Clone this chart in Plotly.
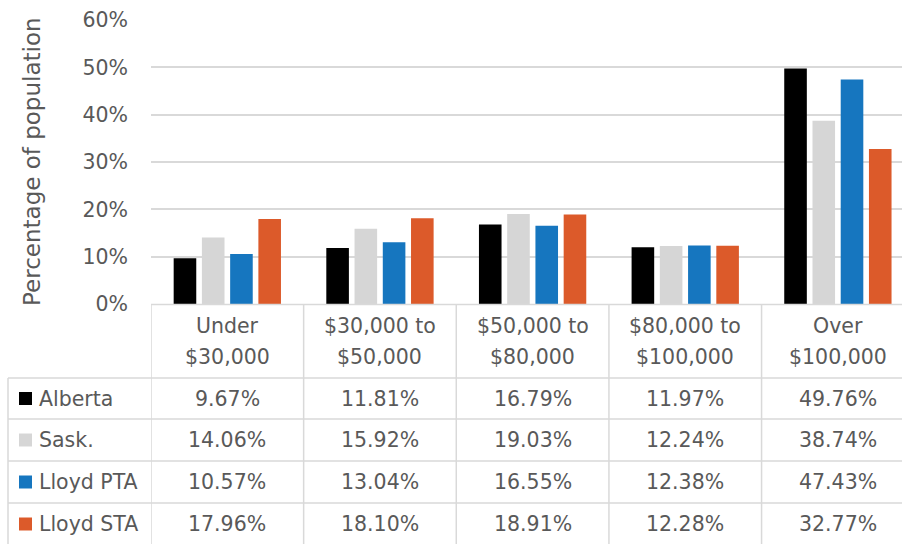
import plotly.graph_objects as go

# ---- data ----
categories = ["Under $30,000", "$30,000 to $50,000", "$50,000 to $80,000",
              "$80,000 to $100,000", "Over $100,000"]
header_line1 = ["Under", "$30,000 to", "$50,000 to", "$80,000 to", "Over"]
header_line2 = ["$30,000", "$50,000", "$80,000", "$100,000", "$100,000"]
series_names = ["Alberta", "Sask.", "Lloyd PTA", "Lloyd STA"]
alberta = [9.67, 11.81, 16.79, 11.97, 49.76]
sask = [14.06, 15.92, 19.03, 12.24, 38.74]
lloyd_pta = [10.57, 13.04, 16.55, 12.38, 47.43]
lloyd_sta = [17.96, 18.10, 18.91, 12.28, 32.77]
y_tick_values = [0, 10, 20, 30, 40, 50, 60]
y_tick_labels = ["0%", "10%", "20%", "30%", "40%", "50%", "60%"]
y_title = "Percentage of population"

series_values = [alberta, sask, lloyd_pta, lloyd_sta]
colors = ["#000000", "#d6d6d6", "#1676bf", "#dc5a2a"]

# ---- geometry helpers (pixel -> paper) ----
W, H = 902, 544
ML, MR, MT, MB = 151, 0, 20, 240
PW, PH = W - ML - MR, H - MT - MB
def px_x(p):
    return (p - ML) / PW
def px_y(p):
    return (H - MB - p) / PH

FONT = "DejaVu Sans"
TXT = "#595959"
GRID = "#d9d9d9"
FS = 20.5

fig = go.Figure()
for name, vals, col in zip(series_names, series_values, colors):
    fig.add_trace(go.Bar(name=name, x=categories, y=vals, marker_color=col,
                         marker_line_width=0, showlegend=False))

shapes = []
# table horizontal lines
shapes.append(dict(type="line", xref="paper", yref="paper", x0=0, x1=1,
                   y0=px_y(304.5), y1=px_y(304.5), line=dict(color=GRID, width=1.5)))
for yy in [378, 419, 461, 503]:
    shapes.append(dict(type="line", xref="paper", yref="paper", x0=px_x(8), x1=1.01,
                       y0=px_y(yy), y1=px_y(yy), line=dict(color=GRID, width=1.5)))
# left border of legend column
shapes.append(dict(type="line", xref="paper", yref="paper", x0=px_x(8), x1=px_x(8),
                   y0=px_y(378), y1=px_y(548), line=dict(color=GRID, width=1.5)))
# category boundaries
for i in range(len(categories)):
    shapes.append(dict(type="line", xref="x", yref="paper", x0=i - 0.5, x1=i - 0.5,
                       y0=px_y(304), y1=px_y(548), line=dict(color=GRID, width=1.5)))

row_centers = [398.5, 440, 482, 524]
annotations = []
for i, cat in enumerate(categories):
    annotations.append(dict(x=cat, xref="x", y=px_y(326), yref="paper", text=header_line1[i],
                            showarrow=False, xanchor="center", yanchor="middle",
                            font=dict(family=FONT, size=FS, color=TXT)))
    annotations.append(dict(x=cat, xref="x", y=px_y(357), yref="paper", text=header_line2[i],
                            showarrow=False, xanchor="center", yanchor="middle",
                            font=dict(family=FONT, size=FS, color=TXT)))
for r, (name, vals, col) in enumerate(zip(series_names, series_values, colors)):
    yc = row_centers[r]
    shapes.append(dict(type="rect", xref="paper", yref="paper", x0=px_x(19), x1=px_x(32),
                       y0=px_y(yc - 6.5), y1=px_y(yc + 6.5), fillcolor=col,
                       line=dict(width=0)))
    annotations.append(dict(x=px_x(37), xref="paper", y=px_y(yc), yref="paper", text=name,
                            showarrow=False, xanchor="left", yanchor="middle",
                            font=dict(family=FONT, size=FS, color=TXT)))
    for i, v in enumerate(vals):
        annotations.append(dict(x=categories[i], xref="x", y=px_y(yc), yref="paper",
                                text=f"{v:.2f}%", showarrow=False, xanchor="center",
                                yanchor="middle", font=dict(family=FONT, size=FS, color=TXT)))
# y-axis title
annotations.append(dict(x=px_x(32), xref="paper", y=px_y(162), yref="paper", text=y_title,
                        textangle=-90, showarrow=False, xanchor="center", yanchor="middle",
                        font=dict(family=FONT, size=23, color=TXT)))

fig.update_layout(
    width=W, height=H,
    margin=dict(l=ML, r=MR, t=MT, b=MB, pad=0),
    paper_bgcolor="white", plot_bgcolor="white",
    barmode="group", bargap=0.26, bargroupgap=0.2,
    font=dict(family=FONT, size=FS, color=TXT),
    shapes=shapes, annotations=annotations,
    xaxis=dict(range=[-0.5, 4.42], showticklabels=False, showgrid=False, zeroline=False,
               showline=False, ticks=""),
    yaxis=dict(range=[0, 60], tickmode="array", tickvals=y_tick_values, ticktext=y_tick_labels,
               showgrid=True, gridcolor=GRID, gridwidth=1.5, zeroline=False, showline=False,
               ticklabelstandoff=22, tickfont=dict(family=FONT, size=FS, color=TXT)),
)

fig.write_html("out.html", config={"displayModeBar": False},
               post_script="document.body.style.margin='0';document.body.style.overflow='hidden';")
